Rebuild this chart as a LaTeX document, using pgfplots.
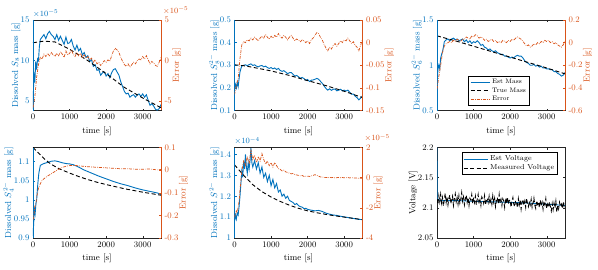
\documentclass[border=0pt]{standalone}
\usepackage{pgfplots}
\pgfplotsset{compat=1.18}
\definecolor{mblue}{RGB}{0,114,189}
\definecolor{morange}{RGB}{217,83,25}
\pgfplotsset{
 common/.style={scale only axis, width=128pt, height=90.5pt, xmin=0, xmax=3500,
   tick align=inside, major tick length=2pt, scaled ticks=false,
   /pgf/number format/assume math mode=true, /pgf/number format/1000 sep={},
   tick label style={font=\fontsize{8.5}{9}\selectfont},
   label style={font=\fontsize{8.8}{10}\selectfont},
   yticklabel style={/pgf/number format/fixed, /pgf/number format/precision=3},
   axis line style={line width=0.5pt, draw=black!85},
   tick style={line width=0.4pt, black!85},
   ylabel shift=-6.5pt,
 },
 lft/.style={common, xtick={0,1000,2000,3000}, xtick pos=both, ytick pos=left, xlabel={time [s]},
   y tick label style={text=mblue}, ylabel style={text=mblue}, y tick style={mblue},
   after end axis/.code={\draw[mblue,line width=0.6pt] (rel axis cs:0,0)--(rel axis cs:0,1);}},
 rgt/.style={common, hide x axis, ytick pos=right, yticklabel pos=right, axis line style={draw=none},
   y tick label style={text=morange}, ylabel style={text=morange}, y tick style={morange},
   after end axis/.code={\draw[morange,line width=0.6pt] (rel axis cs:1,0)--(rel axis cs:1,1);}},
 est/.style={mblue, line width=0.9pt},
 tru/.style={black, line width=0.9pt, dash pattern=on 4pt off 2.5pt},
 err/.style={morange, line width=0.7pt, dash pattern=on 3pt off 1.2pt on 0.6pt off 1.2pt},
}
\begin{document}
\begin{tikzpicture}
\useasboundingbox (0,0) rectangle (598pt,-270pt);
% ---------------- Plot 1 ----------------
\begin{axis}[lft, name=a1, at={(33pt,-110.5pt)}, anchor=south west, ymin=3.86, ymax=15, ytick={5,10,15},
  ylabel={Dissolved $S_8$ mass [g]}]
\addplot[est] coordinates {(0,4.0)(25,8.6)(50,7.3)(75,9.9)(100,8.9)(125,10.2)(150,10.0)(175,11.8)(200,12.6)(250,12.9)(300,13.2)(350,12.7)(400,13.3)(450,13.6)(500,13.2)(550,13.0)(600,12.6)(650,13.2)(700,12.5)(750,13.0)(800,12.5)(850,12.0)(900,12.9)(950,12.1)(1000,12.2)(1050,12.6)(1100,11.8)(1150,11.3)(1200,11.9)(1250,11.2)(1300,11.5)(1350,10.7)(1400,11.0)(1450,10.4)(1500,10.6)(1550,9.9)(1600,10.1)(1650,9.3)(1700,9.5)(1750,8.8)(1800,8.9)(1850,8.2)(1900,8.5)(1950,8.6)(2000,8.1)(2050,8.4)(2100,7.9)(2150,8.5)(2200,8.9)(2250,9.0)(2300,8.6)(2350,8.2)(2400,7.4)(2450,6.8)(2500,6.2)(2550,5.9)(2600,6.0)(2650,5.5)(2700,5.7)(2750,5.8)(2800,5.5)(2850,5.8)(2900,5.9)(2950,5.6)(3000,5.9)(3050,5.5)(3100,5.8)(3150,5.1)(3200,4.5)(3250,4.7)(3300,4.4)(3350,4.0)(3400,3.9)(3450,4.1)(3500,4.6)};
\addplot[tru] coordinates {(0,12.2)(300,12.4)(600,12.3)(1000,11.4)(1500,10.0)(2000,8.4)(2500,6.7)(3000,5.4)(3500,4.2)};
\end{axis}
\begin{axis}[rgt, at={(33pt,-110.5pt)}, anchor=south west, ymin=-6.14, ymax=5, ytick={-5,0,5}, ylabel={Error [g]}]
\addplot[err] coordinates {(0,-5.8)(50,-4.5)(100,-2.0)(150,-0.5)(200,0.4)(250,0.2)(300,0.8)(350,0.5)(400,0.9)(450,0.6)(500,1.0)(550,0.7)(600,0.5)(650,0.9)(700,0.6)(750,1.1)(800,0.8)(850,0.4)(900,1.2)(950,0.7)(1000,0.9)(1050,1.3)(1100,0.8)(1150,0.5)(1200,1.0)(1250,0.6)(1300,0.9)(1350,0.4)(1400,0.7)(1450,0.3)(1500,0.5)(1550,0.1)(1600,0.3)(1650,-0.2)(1700,0.1)(1750,-0.4)(1800,-0.2)(1850,-0.6)(1900,-0.3)(1950,0.0)(2000,-0.2)(2050,0.1)(2100,-0.1)(2150,0.6)(2200,1.2)(2250,1.5)(2300,1.3)(2350,1.0)(2400,0.4)(2450,-0.1)(2500,-0.5)(2550,-0.7)(2600,-0.4)(2650,-0.8)(2700,-0.5)(2750,-0.2)(2800,-0.4)(2850,0.0)(2900,0.2)(2950,0.1)(3000,0.5)(3050,0.2)(3100,0.6)(3150,0.1)(3200,-0.4)(3250,-0.1)(3300,-0.3)(3350,-0.6)(3400,-0.7)(3450,-0.2)(3500,0.4)};
\end{axis}
\node[anchor=south west, inner sep=0pt, text=mblue, font=\fontsize{8}{9}\selectfont, yshift=2.5pt] at (a1.north west) {$\times10^{-5}$};
\node[anchor=south west, inner sep=0pt, text=morange, font=\fontsize{8}{9}\selectfont, yshift=5.5pt, xshift=2pt] at (a1.north east) {$\times10^{-5}$};
% ---------------- Plot 2 ----------------
\begin{axis}[lft, name=a2, at={(234.5pt,-110.5pt)}, anchor=south west, ymin=0.1, ymax=0.5, ytick={0.1,0.2,0.3,0.4,0.5},
  ylabel={Dissolved $S_8^{2-}$ mass [g]}]
\addplot[est] coordinates {(0,0.19)(25,0.215)(50,0.2)(75,0.225)(100,0.205)(125,0.24)(150,0.27)(175,0.285)(200,0.297)(250,0.3)(300,0.302)(350,0.298)(400,0.303)(450,0.306)(500,0.299)(550,0.302)(600,0.296)(650,0.293)(700,0.297)(750,0.299)(800,0.293)(850,0.296)(900,0.29)(950,0.286)(1000,0.29)(1050,0.284)(1100,0.288)(1150,0.281)(1200,0.286)(1250,0.277)(1300,0.273)(1350,0.276)(1400,0.27)(1450,0.263)(1500,0.267)(1550,0.268)(1600,0.26)(1650,0.252)(1700,0.255)(1750,0.249)(1800,0.243)(1850,0.246)(1900,0.241)(1950,0.234)(2000,0.237)(2050,0.228)(2100,0.234)(2150,0.235)(2200,0.238)(2250,0.242)(2300,0.238)(2350,0.229)(2400,0.22)(2450,0.208)(2500,0.198)(2550,0.19)(2600,0.196)(2650,0.189)(2700,0.194)(2750,0.195)(2800,0.187)(2850,0.19)(2900,0.194)(2950,0.187)(3000,0.19)(3050,0.186)(3100,0.19)(3150,0.181)(3200,0.172)(3250,0.173)(3300,0.163)(3350,0.157)(3400,0.147)(3450,0.155)(3500,0.165)};
\addplot[tru] coordinates {(0,0.302)(250,0.298)(500,0.291)(1000,0.275)(1500,0.255)(2000,0.232)(2500,0.21)(3000,0.185)(3500,0.157)};
\end{axis}
\begin{axis}[rgt, at={(234.5pt,-110.5pt)}, anchor=south west, ymin=-0.15, ymax=0.05, ytick={-0.15,-0.1,-0.05,0,0.05}, ylabel={Error [g]}]
\addplot[err] coordinates {(0,-0.115)(50,-0.095)(100,-0.08)(150,-0.035)(200,-0.005)(250,0.002)(300,0.0)(350,0.006)(400,0.004)(450,0.01)(500,0.006)(550,0.012)(600,0.008)(650,0.004)(700,0.01)(750,0.014)(800,0.01)(850,0.018)(900,0.012)(950,0.008)(1000,0.014)(1050,0.01)(1100,0.016)(1150,0.012)(1200,0.02)(1250,0.014)(1300,0.01)(1350,0.016)(1400,0.012)(1450,0.006)(1500,0.012)(1550,0.016)(1600,0.01)(1650,0.004)(1700,0.008)(1750,0.006)(1800,0.002)(1850,0.006)(1900,0.004)(1950,0.0)(2000,0.004)(2050,-0.002)(2100,0.006)(2150,0.01)(2200,0.016)(2250,0.022)(2300,0.02)(2350,0.012)(2400,0.006)(2450,-0.004)(2500,-0.012)(2550,-0.018)(2600,-0.01)(2650,-0.014)(2700,-0.006)(2750,-0.002)(2800,-0.008)(2850,-0.002)(2900,0.004)(2950,0.0)(3000,0.006)(3050,0.004)(3100,0.01)(3150,0.004)(3200,-0.002)(3250,0.002)(3300,-0.006)(3350,-0.01)(3400,-0.018)(3450,-0.006)(3500,0.008)};
\end{axis}
% ---------------- Plot 3 ----------------
\begin{axis}[lft, name=a3, at={(437pt,-110.5pt)}, anchor=south west, ymin=0.5, ymax=1.5, ytick={0.5,1,1.5},
  ylabel={Dissolved $S_6^{2-}$ mass [g]}]
\addplot[est] coordinates {(0,0.75)(25,0.95)(50,1.0)(75,0.96)(100,1.08)(125,1.12)(150,1.15)(175,1.2)(200,1.26)(250,1.28)(300,1.29)(350,1.27)(400,1.29)(450,1.3)(500,1.28)(550,1.29)(600,1.27)(650,1.28)(700,1.29)(750,1.26)(800,1.28)(850,1.25)(900,1.27)(950,1.24)(1000,1.26)(1050,1.25)(1100,1.27)(1150,1.25)(1200,1.22)(1250,1.23)(1300,1.2)(1350,1.19)(1400,1.17)(1450,1.18)(1500,1.16)(1550,1.15)(1600,1.16)(1650,1.14)(1700,1.13)(1750,1.12)(1800,1.12)(1850,1.1)(1900,1.1)(1950,1.09)(2000,1.08)(2050,1.09)(2100,1.08)(2150,1.1)(2200,1.11)(2250,1.1)(2300,1.1)(2350,1.08)(2400,1.05)(2450,1.03)(2500,1.02)(2550,1.0)(2600,1.0)(2650,1.01)(2700,0.99)(2750,1.0)(2800,0.98)(2850,0.99)(2900,0.97)(2950,0.97)(3000,0.96)(3050,0.96)(3100,0.95)(3150,0.95)(3200,0.93)(3250,0.93)(3300,0.91)(3350,0.9)(3400,0.88)(3450,0.89)(3500,0.92)};
\addplot[tru] coordinates {(0,1.325)(500,1.27)(1000,1.21)(1500,1.15)(2000,1.09)(2500,1.03)(3000,0.97)(3500,0.905)};
\end{axis}
\begin{axis}[rgt, at={(437pt,-110.5pt)}, anchor=south west, ymin=-0.6, ymax=0.2, ytick={-0.6,-0.4,-0.2,0,0.2}, ylabel={Error [g]},
  legend style={at={(0.246,0.055)}, anchor=south west, font=\fontsize{6.5}{7}\selectfont, draw=black, line width=0.5pt, inner xsep=1.5pt, inner ysep=1pt, row sep=-1.5pt},
  legend cell align=left, legend image code/.code={\draw[#1] (0pt,0pt) -- (19pt,0pt);}]
\addlegendimage{est}
\addlegendimage{tru}
\addplot[err] coordinates {(0,-0.41)(50,-0.3)(100,-0.2)(150,-0.09)(200,-0.03)(250,-0.01)(300,0.0)(350,0.01)(400,0.0)(450,0.02)(500,0.01)(550,0.03)(600,0.02)(650,0.01)(700,0.03)(750,0.03)(800,0.05)(850,0.04)(900,0.03)(950,0.06)(1000,0.05)(1050,0.07)(1100,0.06)(1150,0.04)(1200,0.05)(1250,0.04)(1300,0.02)(1350,0.03)(1400,0.01)(1450,0.02)(1500,0.03)(1550,0.01)(1600,0.02)(1650,0.0)(1700,0.01)(1750,0.0)(1800,0.02)(1850,0.01)(1900,0.0)(1950,0.02)(2000,0.01)(2050,0.03)(2100,0.02)(2150,0.04)(2200,0.05)(2250,0.04)(2300,0.03)(2350,0.01)(2400,-0.01)(2450,-0.03)(2500,-0.02)(2550,-0.04)(2600,-0.03)(2650,-0.01)(2700,-0.02)(2750,0.0)(2800,-0.01)(2850,0.01)(2900,0.0)(2950,0.02)(3000,0.01)(3050,0.02)(3100,0.0)(3150,0.01)(3200,-0.01)(3250,0.0)(3300,-0.02)(3350,-0.03)(3400,-0.04)(3450,-0.02)(3500,0.01)};
\legend{Est Mass, True Mass, Error}
\end{axis}
% ---------------- Plot 4 ----------------
\begin{axis}[lft, name=a4, at={(33pt,-238pt)}, anchor=south west, ymin=0.9, ymax=1.137, ytick={0.9,0.95,1,1.05,1.1},
  ylabel={Dissolved $S_4^{2-}$ mass [g]}]
\addplot[est] coordinates {(0,0.905)(20,0.94)(40,0.98)(60,0.965)(80,0.99)(100,1.0)(130,1.04)(160,1.07)(200,1.09)(250,1.093)(300,1.095)(400,1.098)(500,1.101)(600,1.102)(700,1.1)(800,1.097)(900,1.095)(1000,1.094)(1100,1.092)(1200,1.088)(1300,1.083)(1400,1.078)(1500,1.074)(1600,1.07)(1800,1.062)(2000,1.055)(2200,1.048)(2400,1.042)(2600,1.037)(2800,1.031)(3000,1.026)(3200,1.022)(3400,1.018)(3500,1.014)};
\addplot[tru] coordinates {(0,1.137)(100,1.127)(200,1.118)(300,1.108)(400,1.1)(500,1.093)(700,1.082)(1000,1.07)(1250,1.061)(1500,1.053)(1750,1.046)(2000,1.04)(2500,1.029)(3000,1.02)(3500,1.012)};
\end{axis}
\begin{axis}[rgt, at={(33pt,-238pt)}, anchor=south west, ymin=-0.3, ymax=0.1, ytick={-0.3,-0.2,-0.1,0,0.1}, ylabel={Error [g]}]
\addplot[err] coordinates {(0,-0.22)(30,-0.19)(50,-0.16)(80,-0.15)(100,-0.12)(150,-0.08)(200,-0.06)(250,-0.045)(300,-0.038)(400,-0.026)(500,-0.016)(600,-0.006)(700,0.004)(800,0.012)(900,0.017)(1000,0.02)(1100,0.021)(1200,0.02)(1300,0.018)(1400,0.017)(1500,0.015)(1700,0.013)(2000,0.01)(2200,0.008)(2400,0.006)(2600,0.006)(2800,0.004)(3000,0.004)(3200,0.005)(3300,0.003)(3400,0.001)(3500,0.003)};
\end{axis}
% ---------------- Plot 5 ----------------
\begin{axis}[lft, name=a5, at={(234.5pt,-238pt)}, anchor=south west, ymin=1, ymax=1.433, ytick={1,1.1,1.2,1.3,1.4},
  ylabel={Dissolved $S^{2-}$ mass [g]}]
\addplot[est] coordinates {(0,1.08)(25,1.11)(50,1.09)(75,1.12)(100,1.11)(125,1.15)(150,1.2)(175,1.26)(200,1.32)(225,1.29)(250,1.37)(275,1.33)(300,1.4)(325,1.34)(350,1.31)(375,1.36)(400,1.33)(425,1.37)(450,1.43)(475,1.36)(500,1.34)(550,1.37)(600,1.33)(650,1.36)(700,1.31)(750,1.34)(800,1.29)(850,1.31)(900,1.27)(950,1.3)(1000,1.25)(1050,1.28)(1100,1.24)(1150,1.26)(1200,1.22)(1250,1.23)(1300,1.2)(1350,1.21)(1400,1.19)(1450,1.2)(1500,1.18)(1550,1.175)(1600,1.17)(1650,1.16)(1700,1.165)(1750,1.155)(1800,1.15)(1850,1.148)(1900,1.14)(1950,1.142)(2000,1.137)(2100,1.133)(2200,1.13)(2300,1.132)(2400,1.127)(2500,1.119)(2600,1.114)(2700,1.11)(2800,1.108)(2900,1.104)(3000,1.101)(3100,1.098)(3200,1.095)(3300,1.092)(3400,1.089)(3500,1.088)};
\addplot[tru] coordinates {(0,1.35)(100,1.33)(250,1.30)(500,1.255)(750,1.222)(1000,1.196)(1250,1.175)(1500,1.157)(1750,1.142)(2000,1.13)(2250,1.121)(2500,1.113)(2750,1.106)(3000,1.1)(3250,1.094)(3500,1.088)};
\end{axis}
\begin{axis}[rgt, at={(234.5pt,-238pt)}, anchor=south west, ymin=-4, ymax=2, ytick={-4,-2,0,2}, ylabel={Error [g]}]
\addplot[err] coordinates {(0,-2.65)(25,-2.4)(50,-2.2)(75,-2.35)(100,-1.9)(125,-1.6)(150,-0.8)(175,-0.2)(200,0.4)(250,1.1)(300,0.8)(350,1.4)(400,0.9)(450,1.8)(500,1.2)(550,1.5)(600,1.0)(650,1.4)(700,1.1)(750,1.6)(800,1.2)(850,0.9)(900,1.1)(950,0.8)(1000,1.0)(1050,0.7)(1100,1.0)(1150,0.8)(1200,0.6)(1250,0.55)(1300,0.45)(1350,0.5)(1400,0.38)(1450,0.35)(1500,0.3)(1550,0.25)(1600,0.28)(1650,0.2)(1700,0.18)(1750,0.15)(1800,0.12)(1850,0.15)(1900,0.08)(1950,0.1)(2000,0.1)(2050,0.08)(2100,0.12)(2150,0.15)(2200,0.2)(2250,0.15)(2300,0.1)(2350,0.05)(2400,0.05)(2450,0.0)(2500,0.02)(2550,0.0)(2600,0.03)(2650,0.0)(2700,0.02)(2750,-0.02)(2800,0.0)(2850,0.02)(2900,0.0)(2950,0.01)(3000,-0.01)(3050,0.0)(3100,0.01)(3150,-0.02)(3200,0.0)(3250,-0.01)(3300,-0.03)(3350,-0.02)(3400,-0.05)(3450,-0.04)(3500,-0.05)};
\end{axis}
\node[anchor=south west, inner sep=0pt, text=mblue, font=\fontsize{8}{9}\selectfont, yshift=2.5pt] at (a5.north west) {$\times10^{-4}$};
\node[anchor=south west, inner sep=0pt, text=morange, font=\fontsize{8}{9}\selectfont, yshift=5.5pt, xshift=2pt] at (a5.north east) {$\times10^{-5}$};
% ---------------- Plot 6 ----------------
\begin{axis}[common, at={(437pt,-238pt)}, anchor=south west, ymin=2.05, ymax=2.2, ytick={2.05,2.1,2.15,2.2},
  xtick={0,1000,2000,3000}, xlabel={time [s]}, ylabel={Voltage [V]},
  legend style={at={(0.945,0.945)}, anchor=north east, font=\fontsize{7.2}{8}\selectfont, draw=black, line width=0.5pt, inner xsep=1.5pt, inner ysep=1pt, row sep=-1.5pt},
  legend cell align=left, legend image code/.code={\draw[#1] (0pt,0pt) -- (24pt,0pt);}]
\addplot[est] coordinates {(0,2.2)(5,2.115)(100,2.112)(500,2.112)(1000,2.111)(1500,2.11)(2000,2.109)(2500,2.108)(3000,2.106)(3500,2.104)};
\addplot[tru] coordinates {(0,2.115)(25,2.106)(50,2.120)(75,2.110)(100,2.122)(125,2.108)(150,2.117)(175,2.103)(200,2.114)(225,2.124)(250,2.109)(275,2.118)(300,2.105)(325,2.116)(350,2.121)(375,2.107)(400,2.113)(425,2.119)(450,2.104)(475,2.115)
(500,2.123)(525,2.110)(550,2.117)(575,2.106)(600,2.120)(625,2.108)(650,2.114)(675,2.125)(700,2.111)(725,2.118)(750,2.105)(775,2.115)(800,2.121)(825,2.109)(850,2.117)(875,2.104)(900,2.116)(925,2.113)(950,2.122)(975,2.107)
(1000,2.117)(1025,2.109)(1050,2.119)(1075,2.105)(1100,2.114)(1125,2.122)(1150,2.107)(1175,2.113)(1200,2.104)(1225,2.118)(1250,2.115)(1275,2.108)(1300,2.120)(1325,2.105)(1350,2.112)(1375,2.116)(1400,2.109)(1425,2.119)(1450,2.106)(1475,2.114)
(1500,2.106)(1525,2.120)(1550,2.109)(1575,2.116)(1600,2.102)(1625,2.112)(1650,2.117)(1675,2.107)(1700,2.122)(1725,2.108)(1750,2.114)(1775,2.104)(1800,2.115)(1825,2.111)(1850,2.101)(1875,2.116)(1900,2.107)(1925,2.118)(1950,2.106)(1975,2.112)
(2000,2.113)(2025,2.101)(2050,2.111)(2075,2.117)(2100,2.106)(2125,2.102)(2150,2.112)(2175,2.109)(2200,2.100)(2225,2.115)(2250,2.105)(2275,2.113)(2300,2.098)(2325,2.110)(2350,2.114)(2375,2.104)(2400,2.111)(2425,2.101)(2450,2.116)(2475,2.107)
(2500,2.102)(2525,2.111)(2550,2.105)(2575,2.114)(2600,2.101)(2625,2.108)(2650,2.116)(2675,2.104)(2700,2.099)(2725,2.112)(2750,2.106)(2775,2.110)(2800,2.100)(2825,2.113)(2850,2.103)(2875,2.109)(2900,2.098)(2925,2.111)(2950,2.105)(2975,2.115)
(3000,2.099)(3025,2.106)(3050,2.101)(3075,2.110)(3100,2.102)(3125,2.095)(3150,2.107)(3175,2.097)(3200,2.108)(3225,2.100)(3250,2.111)(3275,2.093)(3300,2.103)(3325,2.098)(3350,2.109)(3375,2.102)(3400,2.106)(3425,2.099)(3450,2.110)(3475,2.103)(3500,2.108)};
\legend{Est Voltage, Measured Voltage}
\end{axis}
\end{tikzpicture}
\end{document}
